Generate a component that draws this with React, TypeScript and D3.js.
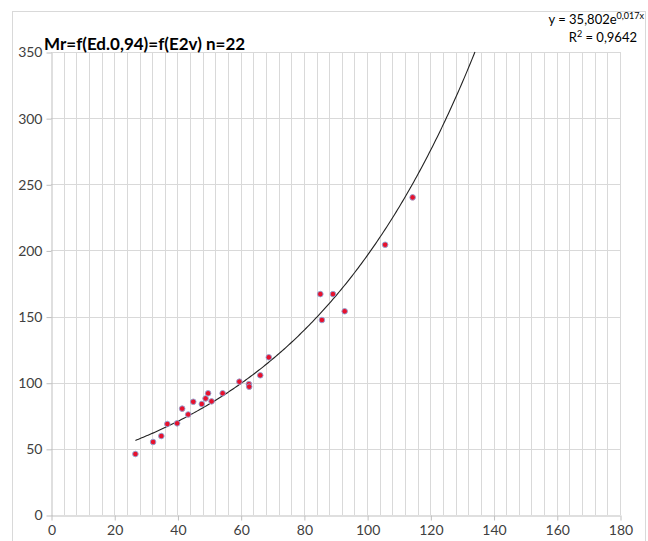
import React, { useEffect, useRef } from 'react';
import * as d3 from 'd3';

// points (x, y)
const xs = [26.7, 32.3, 34.9, 36.8, 39.9, 41.5, 43.4, 45.0, 47.7, 48.9, 49.7, 50.8, 54.3, 59.6, 62.6, 62.7, 66.2, 68.9, 85.2, 85.7, 89.2, 92.9, 105.7, 114.4];
const ys = [46.1, 55.2, 59.7, 68.8, 69.3, 80.4, 76.0, 85.6, 83.9, 88.1, 92.0, 85.9, 92.0, 100.8, 98.9, 97.0, 105.6, 119.2, 167, 147.4, 167, 154, 204.3, 240.1];
const xTicks = [0, 20, 40, 60, 80, 100, 120, 140, 160, 180];
const yTicks = [0, 50, 100, 150, 200, 250, 300, 350];
const fitA = 35.802;
const fitB = 0.017;
const title = 'Mr=f(Ed.0,94)=f(E2v) n=22';

const App = () => {
  const svgRef = useRef(null);

  useEffect(() => {
    const W = 648, H = 541;
    const left = 51, right = 620, top = 52, bottom = 515;
    const font = 'Lato, "Open Sans", sans-serif';

    const svg = d3.select(svgRef.current).attr('width', W).attr('height', H);
    svg.selectAll('*').remove();

    svg.append('rect').attr('width', W).attr('height', H).attr('fill', '#fff');
    svg.append('rect')
      .attr('x', 12.5).attr('y', 11.5).attr('width', 633).attr('height', 540)
      .attr('fill', 'none').attr('stroke', '#d9d9d9');

    const x = d3.scaleLinear().domain([0, 180]).range([left, right]);
    const y = d3.scaleLinear().domain([0, 350]).range([bottom, top]);

    // minor vertical grid every 4
    svg.append('g').selectAll('line')
      .data(d3.range(4, 181, 4))
      .join('line')
      .attr('x1', (d) => Math.round(x(d)) + 0.5).attr('x2', (d) => Math.round(x(d)) + 0.5)
      .attr('y1', top).attr('y2', bottom)
      .attr('stroke', '#d9d9d9').attr('stroke-width', 1);

    svg.append('g').selectAll('line')
      .data(yTicks.slice(1))
      .join('line')
      .attr('x1', left).attr('x2', right)
      .attr('y1', (d) => Math.round(y(d)) + 0.5).attr('y2', (d) => Math.round(y(d)) + 0.5)
      .attr('stroke', '#d9d9d9').attr('stroke-width', 1);

    const xAxis = d3.axisBottom(x).tickValues(xTicks).tickSize(5).tickSizeOuter(0).tickPadding(5);
    const gx = svg.append('g').attr('transform', `translate(0.5,${bottom + 0.5})`).call(xAxis);
    gx.select('.domain').attr('stroke', '#bfbfbf').attr('transform', 'translate(-0.5,0)');
    gx.selectAll('line').attr('stroke', '#bfbfbf');
    gx.selectAll('text').attr('fill', '#404040').attr('font-size', 14).attr('font-family', font);

    const yAxis = d3.axisLeft(y).tickValues(yTicks).tickSize(5).tickSizeOuter(0).tickPadding(4);
    const gy = svg.append('g').attr('transform', `translate(${left + 0.5},0.5)`).call(yAxis);
    gy.select('.domain').attr('stroke', '#bfbfbf');
    gy.selectAll('line').attr('stroke', '#bfbfbf');
    gy.selectAll('text').attr('fill', '#404040').attr('font-size', 14).attr('font-family', font);

    // exponential trend line
    const xMax = Math.log(350 / fitA) / fitB;
    const curve = d3.range(d3.min(xs), xMax, 0.5).concat([xMax]);
    const line = d3.line().x((d) => x(d)).y((d) => y(fitA * Math.exp(fitB * d)));
    svg.append('path')
      .datum(curve)
      .attr('fill', 'none')
      .attr('stroke', '#222')
      .attr('stroke-width', 1.1)
      .attr('d', line);

    svg.append('g').selectAll('circle')
      .data(xs.map((v, i) => [v, ys[i]]))
      .join('circle')
      .attr('cx', (d) => x(d[0])).attr('cy', (d) => y(d[1]))
      .attr('r', 2.8)
      .attr('fill', '#e8112d')
      .attr('stroke', '#8fa8d8').attr('stroke-width', 0.9);

    svg.append('text')
      .attr('x', 44).attr('y', 50)
      .attr('font-family', font).attr('font-weight', 'bold').attr('font-size', 17)
      .attr('fill', '#000')
      .text(title);

    const eq = svg.append('text')
      .attr('x', 644).attr('y', 24).attr('text-anchor', 'end')
      .attr('font-family', font).attr('font-size', 13).attr('fill', '#000');
    eq.append('tspan').text(`y = ${String(fitA).replace('.', ',')}e`);
    eq.append('tspan').attr('font-size', 9).attr('dy', -5).text(`${String(fitB).replace('.', ',')}x`);

    const r2 = svg.append('text')
      .attr('x', 637).attr('y', 42).attr('text-anchor', 'end')
      .attr('font-family', font).attr('font-size', 13).attr('fill', '#000');
    r2.append('tspan').text('R');
    r2.append('tspan').attr('font-size', 9).attr('dy', -5).text('2');
    r2.append('tspan').attr('dy', 5).text(' = 0,9642');
  }, []);

  return (
    <div style={{ position: 'absolute', left: 0, top: 0 }}>
      <svg ref={svgRef} style={{ display: 'block' }}></svg>
    </div>
  );
};

export default App;
